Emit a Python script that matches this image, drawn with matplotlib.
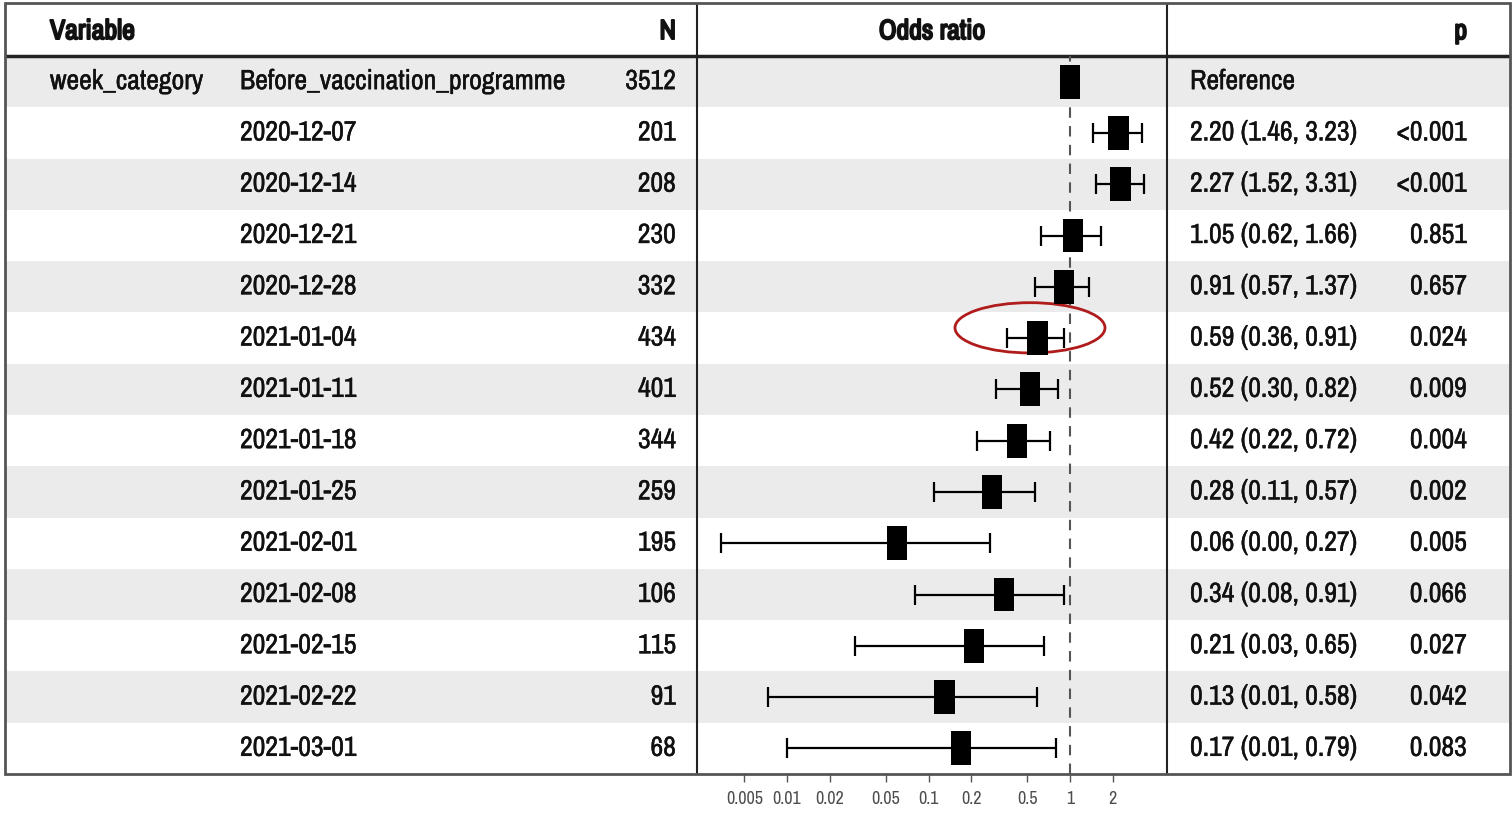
import os
import numpy as np
import matplotlib.pyplot as plt
import matplotlib.patheffects as pe
from matplotlib.patches import Ellipse
import matplotlib.font_manager as fm


def wnum(w):
    return w if isinstance(w, (int, float)) else fm.weight_dict.get(w, 400)


# look for a narrow / condensed face (regular weight), else fall back to Liberation Sans
cond = [f for f in fm.fontManager.ttflist
        if ('narrow' in os.path.basename(f.fname).lower() or 'condensed' in os.path.basename(f.fname).lower())
        and 'dejavu' not in f.name.lower() and f.style == 'normal']
cond.sort(key=lambda f: abs(wnum(f.weight) - 400))
if cond:
    font_reg = fm.FontProperties(fname=cond[0].fname)
    fs = 20
else:
    font_reg = fm.FontProperties(family='Liberation Sans')
    fs = 16

# data
variable = 'week_category'
levels = ['Before_vaccination_programme', '2020-12-07', '2020-12-14', '2020-12-21',
          '2020-12-28', '2021-01-04', '2021-01-11', '2021-01-18', '2021-01-25',
          '2021-02-01', '2021-02-08', '2021-02-15', '2021-02-22', '2021-03-01']
n_obs = [3512, 201, 208, 230, 332, 434, 401, 344, 259, 195, 106, 115, 91, 68]
odds = [1.0, 2.20, 2.27, 1.05, 0.91, 0.59, 0.52, 0.42, 0.28, 0.06, 0.34, 0.21, 0.13, 0.17]
ci_low = [np.nan, 1.46, 1.52, 0.62, 0.57, 0.36, 0.30, 0.22, 0.11, 0.0034, 0.08, 0.03, 0.0073, 0.01]
ci_high = [np.nan, 3.23, 3.31, 1.66, 1.37, 0.91, 0.82, 0.72, 0.57, 0.27, 0.91, 0.65, 0.58, 0.79]
p_text = ['', '<0.001', '<0.001', '0.851', '0.657', '0.024', '0.009', '0.004', '0.002',
          '0.005', '0.066', '0.027', '0.042', '0.083']
xticks = [0.005, 0.01, 0.02, 0.05, 0.1, 0.2, 0.5, 1, 2]

W, H = 1512, 813
fig = plt.figure(figsize=(W / 100, H / 100), dpi=100)

left, right, top, bottom = 5, 1510, 3, 774
nrow = len(levels)
row_px = 51.3
head = (56 - top) / row_px

# table axes: x in pixel units, y in row units
ax = fig.add_axes([left / W, 1 - bottom / H, (right - left) / W, (bottom - top) / H])
ax.set_xlim(left, right)
ax.set_ylim(-0.5, nrow - 0.5 + head)
ax.axis('off')

ink = '#111111'
tk = dict(fontproperties=font_reg, fontsize=fs, va='center', color=ink,
          path_effects=[pe.withStroke(linewidth=0.3, foreground=ink)])
ys = np.arange(nrow)[::-1]
for i, y in enumerate(ys):
    if i % 2 == 0:
        ax.axhspan(y - 0.5, y + 0.5, color='#ebebeb', lw=0, zorder=0)
    if i == 0:
        ax.text(50, y, variable, ha='left', **tk)
        ax.text(1190, y, 'Reference', ha='left', **tk)
    else:
        ax.text(1190, y, f'{odds[i]:.2f} ({ci_low[i]:.2f}, {ci_high[i]:.2f})', ha='left', **tk)
        ax.text(1467, y, p_text[i], ha='right', **tk)
    ax.text(240, y, levels[i], ha='left', **tk)
    ax.text(676, y, str(n_obs[i]), ha='right', **tk)

# header (bold look via stroke, the narrow face has one weight)
hk = dict(fontproperties=font_reg, fontsize=fs, va='center', color=ink,
          path_effects=[pe.withStroke(linewidth=1.4, foreground=ink)])
yh = nrow - 0.5 + head / 2 - 0.04
ax.text(50, yh, 'Variable', ha='left', **hk)
ax.text(676, yh, 'N', ha='right', **hk)
ax.text(932, yh, 'Odds ratio', ha='center', **hk)
ax.text(1467, yh, 'p', ha='right', **hk)

# grid lines of the table
ax.axhline(nrow - 0.5, color='#222222', lw=2.5, zorder=3)
for xv in (697, 1167):
    ax.axvline(xv, color='#222222', lw=1.5, zorder=3)
ax.add_patch(plt.Rectangle((left, -0.5), right - left, nrow + head, fill=False,
                           ec='#555555', lw=2, zorder=3, clip_on=False))

# red ellipse highlight
ax.add_patch(Ellipse((1030, ys[5] + 0.2), 150, 0.98, fill=False, ec='#b01c1c', lw=2, zorder=2))

# forest panel
fx0, fx1 = 697, 1167
fa = fig.add_axes([fx0 / W, 1 - bottom / H, (fx1 - fx0) / W, (bottom - 56) / H])
fa.patch.set_alpha(0)
fa.set_xscale('log')
fa.set_xlim(10 ** ((fx0 - 1070) / 141.5), 10 ** ((fx1 - 1070) / 141.5))
fa.set_ylim(-0.5, nrow - 0.5)
for s in fa.spines.values():
    s.set_visible(False)
fa.set_yticks([])
fa.set_xticks(xticks)
fa.set_xticklabels([f'{t:g}' for t in xticks], fontproperties=font_reg, fontsize=13)
fa.minorticks_off()
fa.tick_params(axis='x', length=6, width=1, color='#555555', labelcolor='#4d4d4d', pad=6)

fa.axvline(1, color='#555555', lw=1.5, ls=(0, (5, 4)), zorder=1)

odds_a = np.array(odds)
lo = np.array(ci_low)
hi = np.array(ci_high)
fa.errorbar(odds_a, ys, xerr=[odds_a - lo, hi - odds_a], fmt='none', ecolor='black',
            elinewidth=1.6, capsize=7, capthick=1.6, zorder=2)
k = 10 ** 0.072
fa.barh(ys, odds_a * k - odds_a / k, left=odds_a / k, height=0.66, color='black', zorder=3)

fig.savefig('out.png', dpi=100)
